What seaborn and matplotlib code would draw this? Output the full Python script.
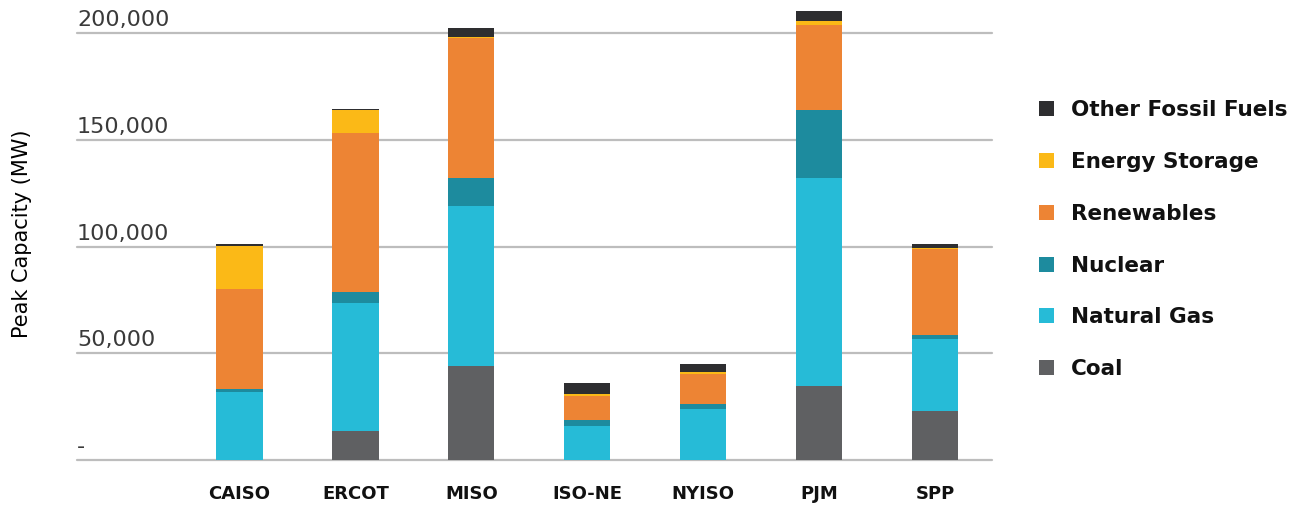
import matplotlib
matplotlib.use("Agg")
import matplotlib.pyplot as plt
import matplotlib.transforms as mtransforms
import seaborn as sns
import pandas as pd
import numpy as np

# ---- data (MW) ----
regions = ["CAISO", "ERCOT", "MISO", "ISO-NE", "NYISO", "PJM", "SPP"]
coal = [0, 13600, 44000, 0, 0, 34700, 23000]
natural_gas = [32000, 60200, 75000, 16100, 23700, 97500, 33900]
nuclear = [1300, 4800, 13100, 2700, 2400, 31700, 1600]
renewables = [46700, 74500, 65800, 11100, 14400, 40200, 40300]
energy_storage = [20300, 10800, 600, 1200, 800, 1500, 600]
other_fossil = [800, 800, 4200, 5200, 3600, 5000, 1700]

series_names = ["Coal", "Natural Gas", "Nuclear", "Renewables",
                "Energy Storage", "Other Fossil Fuels"]
series_values = [coal, natural_gas, nuclear, renewables, energy_storage, other_fossil]
series_colors = ["#5f6062", "#26bbd7", "#1d8b9e", "#ed8434", "#fbb917", "#2e2e30"]

y_ticks = [0, 50000, 100000, 150000, 200000]
y_tick_labels = ["-", "50,000", "100,000", "150,000", "200,000"]

# ---- build cumulative table ----
df = pd.DataFrame({"region": regions})
cum = np.zeros(len(regions))
for name, vals in zip(series_names, series_values):
    cum = cum + np.array(vals, dtype=float)
    df[name] = cum.copy()

sns.set_theme(style="white")
plt.rcParams["font.family"] = ["DejaVu Sans"]

W, H = 1302, 505
fig = plt.figure(figsize=(W / 100, H / 100), dpi=100)
ax = fig.add_axes([77 / W, 45 / H, 915 / W, 455 / H])

# draw tallest (cumulative) first so shorter layers overlay
for name, color in zip(series_names[::-1], series_colors[::-1]):
    sns.barplot(data=df, x="region", y=name, order=regions, color=color,
                saturation=1, width=0.4, linewidth=0, errorbar=None,
                label=name, ax=ax)

ax.set_xlim(-1.4, 6.49)
ax.set_ylim(0, 455 * 468.75)

# gridlines
for t in y_ticks:
    ax.axhline(t, color="#bdbdbd", linewidth=1.6, zorder=0, clip_on=False)
ax.set_axisbelow(True)

# y tick labels above the grid lines
ax.set_yticks([])
trans = mtransforms.offset_copy(ax.get_yaxis_transform(), fig=fig, x=0, y=3, units="dots")
for t, lab in zip(y_ticks, y_tick_labels):
    ax.text(0.0, t, lab, transform=trans, ha="left", va="bottom",
            fontsize=16, color="#3a3a3a")

ax.set_ylabel("Peak Capacity (MW)", fontsize=15, color="#000000")
ax.yaxis.set_label_coords(-0.049, 0.497)
ax.set_xlabel("")

ax.tick_params(axis="x", length=0, pad=18)
for lab in ax.get_xticklabels():
    lab.set_fontweight("bold")
    lab.set_fontsize(13)
    lab.set_color("#111111")

for s in ax.spines.values():
    s.set_visible(False)

leg = ax.legend(loc="upper left", bbox_to_anchor=(1039 / W, 1 - 100 / H),
                bbox_transform=fig.transFigure, frameon=False,
                prop={"weight": "bold", "size": 15.5}, labelcolor="#111111",
                handlelength=0.7, handleheight=0.7, handletextpad=0.8,
                labelspacing=1.48, borderpad=0, borderaxespad=0)

fig.savefig("out.png", dpi=100, facecolor="white")
